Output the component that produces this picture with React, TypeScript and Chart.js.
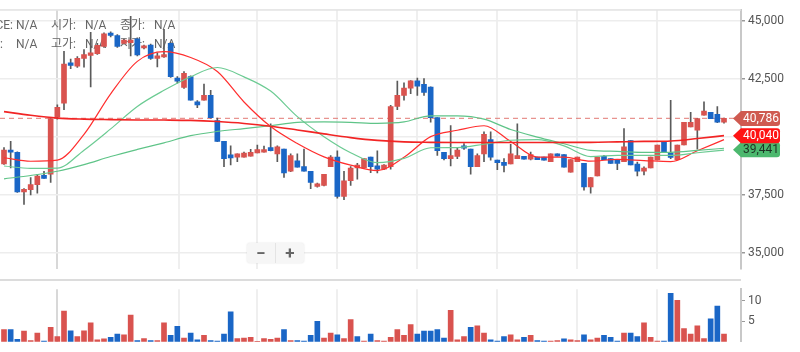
import React, { useEffect, useRef } from "react";
import { Chart, registerables } from "chart.js";

Chart.register(...registerables);

// ---------- data ----------
const OPEN = [38830,39420,39330,37620,37720,37930,38330,38380,40840,41440,
43180,43040,43370,43500,43580,43890,44460,44360,44020,44050,
44220,43820,43950,43370,43440,44020,42520,42120,42590,41500,
41570,41780,40690,39800,39220,39120,39120,39160,39300,39330,
39530,39260,39460,38510,38960,38710,38510,37860,37900,38710,
39120,37420,38100,38650,38650,39120,38740,38600,38710,41300,
41780,42090,42410,42250,42140,40820,39330,39050,39150,39600,
39460,38710,39260,39870,38990,38890,38820,39050,39150,39030,
39120,39120,38920,39260,39230,38470,38920,38850,37830,38310,
39150,39050,38990,38920,39830,38820,38510,38650,39000,39780,
39290,39010,39640,40420,40280,40930,41050,40960,40620];

const HIGH = [39530,39800,39350,37760,38240,38380,38510,40820,41370,43680,
43340,43450,43750,44500,44020,44470,44520,44400,44200,45180,
44260,43950,43990,43610,44630,44060,42590,42800,42620,41550,
42270,42000,40800,39800,39600,39260,39340,39450,39640,39590,
40550,39600,39460,39260,39260,39460,38510,38000,38380,39190,
39390,38510,38710,38850,39050,39120,39390,38800,41350,42390,
42320,42420,42520,42500,42150,40820,39330,40480,39530,39700,
39460,39260,40210,40210,38990,39050,39670,40550,39150,39340,
39120,39120,39260,39260,39230,39010,39120,38850,38240,39120,
39200,39050,38990,40350,39830,38900,38700,39120,39640,39780,
41570,39640,40620,41050,40790,41500,41050,41300,40800];

const LOW = [38800,38650,37600,37080,37490,37560,38200,38030,40750,41160,
42930,42980,42990,42140,43540,43850,44300,43850,43980,43480,
43480,43780,43330,43000,43410,42550,42310,42080,41570,41250,
41570,40800,39780,38710,38780,38920,39120,39160,39300,39330,
39390,38920,38240,38490,38690,38510,37760,37820,37880,38710,
37350,37290,37900,38170,38650,38450,38440,38580,38600,41160,
41570,41850,41780,41780,40620,39190,39000,38740,39050,39450,
38380,38710,38920,38990,38580,38480,38820,39050,39030,39000,
39010,38990,38920,39160,38690,38470,38920,37690,37560,38310,
39010,38850,38580,38920,38780,38310,38350,38650,39000,39330,
39050,39010,39640,40420,39460,40930,40780,40600,40580];

const CLOSE = [39420,39330,37620,37730,37930,38300,38200,40780,41260,43130,
43070,43370,43540,43610,43930,44430,44360,43890,44160,44160,
43520,43910,43370,43480,43540,42590,42390,42730,41570,41370,
41780,40820,39800,39050,39080,39260,39290,39330,39440,39440,
39400,39560,38440,39190,38690,38510,38030,37970,38380,39120,
37420,38100,38650,38780,39050,38710,38600,38780,41300,41780,
42090,42410,42180,41910,40820,39400,39050,39190,39420,39500,
38710,39190,40100,39120,38880,38760,39260,39190,39030,39230,
39010,38990,39260,39160,38690,39010,39120,37830,38240,39120,
39010,38850,38850,39560,38780,38510,38650,39120,39640,39330,
39100,39640,40620,40620,40780,41100,40780,40620,40786];

const VOLUME = [3.0,3.0,0.6,2.6,0.3,2.1,0.2,3.5,1.3,7.5,
2.7,1.3,2.7,4.6,0.5,0.7,1.1,1.9,1.7,6.5,
0.3,0.8,0.3,0.3,4.6,1.6,3.8,0.9,2.1,0.5,
1.6,0.3,0.2,1.9,7.3,0.8,0.9,1.1,0.1,0.8,
0.6,0.9,3.0,0.3,0.3,0.2,1.6,5.0,0.9,2.1,
1.7,0.8,5.4,1.3,0.2,1.9,0.3,0.2,1.1,3.0,
1.6,4.2,1.9,2.6,2.6,3.0,0.9,7.7,0.5,1.3,
3.5,3.9,2.1,0.5,0.2,1.3,1.7,0.5,1.1,1.6,
0.3,0.2,0.2,0.3,0.7,0.5,0.3,1.7,0.5,0.9,
1.6,1.1,0.2,2.1,2.1,1.3,4.6,1.1,0.2,0.2,
11.8,10.1,3.2,1.9,3.9,0.8,5.6,8.7,1.9];

// 1 = rising (red), 0 = falling (blue)
const VOLUME_UP = [1,0,0,1,1,1,0,1,1,1,
0,1,1,1,1,1,0,0,1,1,
0,1,0,1,1,0,0,1,0,0,
1,0,0,0,0,1,1,1,1,1,
1,1,0,1,0,0,0,0,1,1,
0,1,1,0,1,0,1,1,1,1,
1,1,0,0,0,0,0,1,1,1,
0,1,1,0,0,0,1,1,0,1,
0,0,1,1,0,1,1,0,1,1,
0,0,0,1,0,0,1,1,1,0,
0,1,1,1,1,1,0,0,1];

// moving averages sampled at candle indices
const MA_IDX = [0,4,8,12,16,20,24,28,32,36,40,44,48,52,56,60,64,68,72,76,80,84,88,92,96,100,104,108];
const MA_FAST = [39090,38940,38990,40100,41845,43245,43660,43410,42805,41495,40435,39705,39130,38770,38540,39110,40000,40275,40470,39795,39120,39120,38945,39020,38970,38925,39390,39870];
const MA_LONG = [41080,40920,40800,40755,40735,40720,40715,40700,40650,40570,40450,40290,40120,39960,39840,39775,39755,39745,39745,39745,39745,39755,39755,39775,39795,39815,39920,40045];
const MA_MID_GREEN = [38735,38633,38645,39416,40335,41302,41996,42584,42980,42576,41963,40865,40000,39310,38878,39061,39523,39531,39674,39845,39870,39604,39143,39196,39192,39192,39306,39420];
const MA_SLOW_GREEN = [38184,38327,38510,38796,39143,39449,39735,40041,40224,40347,40470,40612,40633,40612,40571,40633,40898,40898,40755,40306,39980,39694,39408,39367,39327,39327,39408,39500];

const LAST_PRICE = 40786;
const PRICE_TICKS = [35000, 37500, 40000, 42500, 45000];
const VOLUME_TICKS = [5, 10];
const GRID_X = [8, 26.2, 38, 50, 62, 74, 86, 98];
const TAG_VALUES = [39441, 40040, 40786];
const TAG_TEXT = ["39,441", "40,040", "40,786"];
const LEGEND_ROW1 = ["PRICE:", "N/A", "시가:", "N/A", "종가:", "N/A"];
const LEGEND_ROW2 = ["VOL:", "N/A", "고가:", "N/A", "저가:", "N/A"];

// ---------- styles ----------
const RED = "#d9534f";
const BLUE = "#1a66c6";
const FONT = "Roboto, 'Noto Sans CJK KR', sans-serif";
const X_MIN = -0.6;
const X_MAX = 110.55;
const AXIS_W = 59;

const xScale = () => ({
  type: "linear" as const,
  min: X_MIN,
  max: X_MAX,
  offset: false,
  afterBuildTicks: (s: any) => {
    s.ticks = GRID_X.map((v) => ({ value: v }));
  },
  afterFit: (s: any) => {
    s.height = 0;
  },
  ticks: { display: false },
  border: { display: false },
  grid: {
    offset: false,
    drawTicks: false,
    color: (c: any) => (c.tick && c.tick.value === 8 ? "#d8d8d8" : "#efefef"),
    lineWidth: 2,
  },
});

export default function App() {
  const mainRef = useRef<HTMLCanvasElement>(null);
  const volRef = useRef<HTMLCanvasElement>(null);

  useEffect(() => {
    const idx = OPEN.map((_, i) => i);
    const bodyColors = idx.map((i) => (CLOSE[i] >= OPEN[i] ? RED : BLUE));
    const maData = (arr: number[]) => MA_IDX.map((x, k) => ({ x, y: arr[k] }));

    const framePlugin = {
      id: "frame",
      beforeDatasetsDraw(chart: any) {
        const { ctx, chartArea } = chart;
        ctx.save();
        ctx.fillStyle = "#e2e2e2";
        ctx.fillRect(0, chartArea.top - 1, chartArea.right, 1.5);
        ctx.font = `12px ${FONT}`;
        ctx.fillStyle = "#666";
        ctx.textBaseline = "middle";
        const xs = [13, 16, 51, 85, 120, 154];
        [LEGEND_ROW1, LEGEND_ROW2].forEach((row, r) => {
          const y = r === 0 ? 25.5 : 44.5;
          row.forEach((t, k) => {
            ctx.textAlign = k === 0 ? "right" : "left";
            const x = k === 0 ? (r === 0 ? 13 : 3) : xs[k];
            ctx.fillText(t, x, y);
          });
        });
        ctx.restore();
      },
      afterDraw(chart: any) {
        const { ctx } = chart;
        const ys = chart.scales.y;
        const bgs = ["#4cb86e", "#ff1414", "#cf5a50"];
        const fgs = ["#1d3124", "#ffffff", "#ffffff"];
        ctx.save();
        TAG_VALUES.forEach((v, k) => {
          const y = ys.getPixelForValue(v);
          const h = 7.5;
          const l = 733, b = 741, r = 780, rad = 3;
          ctx.beginPath();
          ctx.moveTo(l, y);
          ctx.lineTo(b, y - h);
          ctx.lineTo(r - rad, y - h);
          ctx.quadraticCurveTo(r, y - h, r, y - h + rad);
          ctx.lineTo(r, y + h - rad);
          ctx.quadraticCurveTo(r, y + h, r - rad, y + h);
          ctx.lineTo(b, y + h);
          ctx.closePath();
          ctx.fillStyle = bgs[k];
          ctx.fill();
          ctx.fillStyle = fgs[k];
          ctx.font = `12px ${FONT}`;
          ctx.textAlign = "center";
          ctx.textBaseline = "middle";
          ctx.fillText(TAG_TEXT[k], 761, y + 0.5);
        });
        ctx.restore();
      },
    };

    const main = new Chart(mainRef.current as HTMLCanvasElement, {
      type: "bar",
      data: {
        datasets: [
          {
            type: "line",
            data: [{ x: X_MIN, y: LAST_PRICE }, { x: X_MAX, y: LAST_PRICE }],
            borderColor: "rgba(226,120,115,0.8)",
            borderDash: [5, 4],
            borderWidth: 1.2,
            pointRadius: 0,
            order: 10,
          } as any,
          {
            type: "line",
            data: maData(MA_LONG),
            borderColor: "#f22424",
            borderWidth: 1.6,
            pointRadius: 0,
            cubicInterpolationMode: "monotone",
            order: -1,
          } as any,
          {
            type: "line",
            data: maData(MA_SLOW_GREEN),
            borderColor: "#5fc488",
            borderWidth: 1.2,
            pointRadius: 0,
            cubicInterpolationMode: "monotone",
            order: -1,
          } as any,
          {
            type: "line",
            data: maData(MA_MID_GREEN),
            borderColor: "#6ccb93",
            borderWidth: 1.2,
            pointRadius: 0,
            cubicInterpolationMode: "monotone",
            order: -1,
          } as any,
          {
            type: "line",
            data: maData(MA_FAST),
            borderColor: "#ff2e2e",
            borderWidth: 1.2,
            pointRadius: 0,
            cubicInterpolationMode: "monotone",
            order: -1,
          } as any,
          {
            type: "bar",
            data: idx.map((i) => ({ x: i, y: [LOW[i], HIGH[i]] })),
            backgroundColor: "#5a5a5a",
            barThickness: 1,
            grouped: false,
            order: 3,
          } as any,
          {
            type: "bar",
            data: idx.map((i) => ({ x: i, y: [OPEN[i], CLOSE[i]] })),
            backgroundColor: bodyColors,
            barThickness: 5,
            minBarLength: 2,
            grouped: false,
            order: 2,
          } as any,
        ],
      },
      options: {
        animation: false,
        responsive: false,
        events: [],
        layout: { padding: { top: 5, bottom: 1, left: 0, right: 0 } },
        plugins: { legend: { display: false }, tooltip: { enabled: false } },
        scales: {
          x: xScale() as any,
          y: {
            type: "linear",
            position: "right",
            min: 34306,
            max: 45449,
            afterBuildTicks: (s: any) => {
              s.ticks = PRICE_TICKS.map((v) => ({ value: v }));
            },
            afterFit: (s: any) => {
              s.width = AXIS_W;
            },
            grid: { color: "#ededed", tickColor: "#9a9a9a", tickLength: 4, lineWidth: 1.5 },
            border: { display: true, color: "#c8c8c8", width: 2 },
            ticks: {
              color: "#555",
              padding: 3,
              font: { size: 12, family: FONT },
              callback: (v: any) => (v === 40000 ? "" : Number(v).toLocaleString("en-US")),
            },
          } as any,
        },
      },
      plugins: [framePlugin],
    });

    const volFrame = {
      id: "volFrame",
      beforeDatasetsDraw(chart: any) {
        const { ctx, chartArea } = chart;
        ctx.save();
        ctx.fillStyle = "#dcdcdc";
        ctx.fillRect(0, 0, chartArea.right, 2);
        ctx.restore();
      },
    };

    const vol = new Chart(volRef.current as HTMLCanvasElement, {
      type: "bar",
      data: {
        datasets: [
          {
            data: idx.map((i) => ({ x: i, y: VOLUME[i] })),
            backgroundColor: idx.map((i) => (VOLUME_UP[i] ? RED : BLUE)),
            barThickness: 5,
            grouped: false,
          } as any,
        ],
      },
      options: {
        animation: false,
        responsive: false,
        events: [],
        layout: { padding: { top: 1, bottom: 4, left: 0, right: 0 } },
        plugins: { legend: { display: false }, tooltip: { enabled: false } },
        scales: {
          x: xScale() as any,
          y: {
            type: "linear",
            position: "right",
            min: 0,
            max: 12.83,
            afterBuildTicks: (s: any) => {
              s.ticks = VOLUME_TICKS.map((v) => ({ value: v }));
            },
            afterFit: (s: any) => {
              s.width = AXIS_W;
            },
            grid: { drawOnChartArea: false, tickColor: "#9a9a9a", tickLength: 4 },
            border: { display: true, color: "#c8c8c8", width: 2 },
            ticks: { color: "#555", padding: 3, font: { size: 12, family: FONT } },
          } as any,
        },
      },
      plugins: [volFrame],
    });

    return () => {
      main.destroy();
      vol.destroy();
    };
  }, []);

  return (
    <div style={{ position: "absolute", left: 0, top: 0, width: 800, height: 352, background: "#fff", overflow: "hidden" }}>
      <canvas ref={mainRef} width={800} height={279} style={{ position: "absolute", left: 0, top: 0, display: "block" }} />
      <canvas ref={volRef} width={800} height={73} style={{ position: "absolute", left: 0, top: 279, display: "block" }} />
      <div
        style={{
          position: "absolute",
          left: 247,
          top: 243,
          width: 57,
          height: 20,
          background: "#f6f6f6",
          borderRadius: 3,
          boxShadow: "0 0 2px rgba(0,0,0,0.12)",
          display: "flex",
          fontFamily: FONT,
          color: "#666",
          fontWeight: 700,
          fontSize: 17,
          lineHeight: "20px",
        }}
      >
        <div style={{ width: 28, textAlign: "center", borderRight: "1px solid #e4e4e4" }}>−</div>
        <div style={{ width: 28, textAlign: "center" }}>+</div>
      </div>
    </div>
  );
}
